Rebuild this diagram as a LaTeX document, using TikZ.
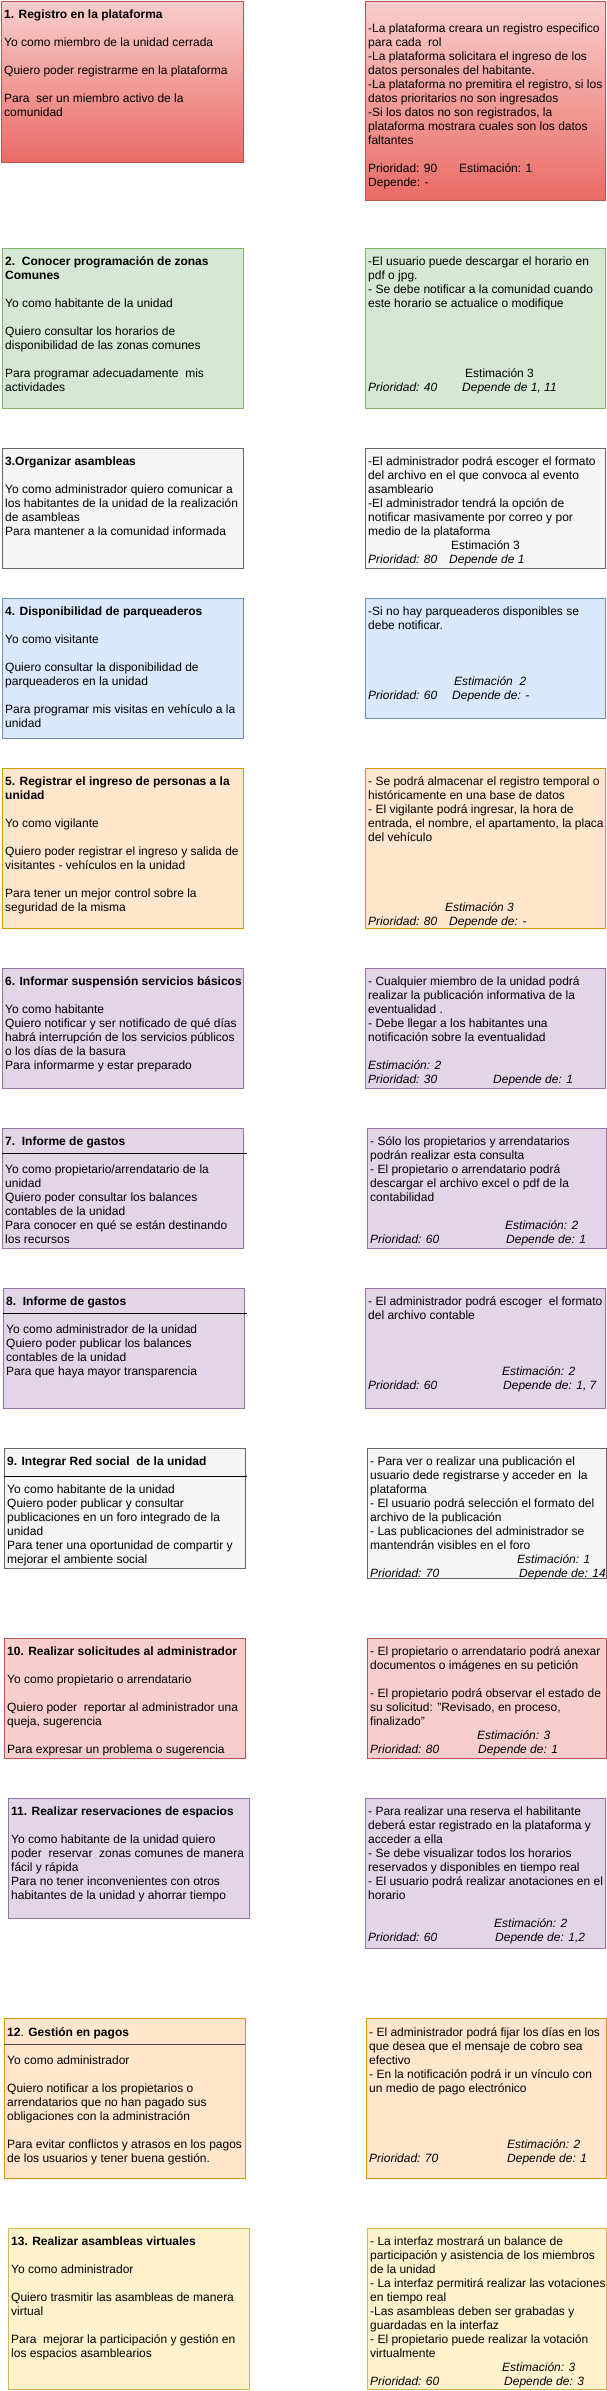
\documentclass[tikz,border=0pt]{standalone}
\usepackage{fontspec}
\setmainfont{Liberation Sans}
\usepackage{tikz}

\definecolor{pinkfill}{HTML}{F8CECC}
\definecolor{pinkdark}{HTML}{EA6B66}
\definecolor{pinkline}{HTML}{B85450}
\definecolor{greenfill}{HTML}{D5E8D4}
\definecolor{greenline}{HTML}{82B366}
\definecolor{greyfill}{HTML}{F5F5F5}
\definecolor{greyline}{HTML}{666666}
\definecolor{bluefill}{HTML}{DAE8FC}
\definecolor{blueline}{HTML}{6C8EBF}
\definecolor{orangefill}{HTML}{FFE6CC}
\definecolor{orangeline}{HTML}{D79B00}
\definecolor{purplefill}{HTML}{E1D5E7}
\definecolor{purpleline}{HTML}{9673A6}
\definecolor{yellowfill}{HTML}{FFF2CC}
\definecolor{yellowline}{HTML}{D6B656}

\begin{document}
\begin{tikzpicture}[x=1pt,y=-1pt,
        card/.style={shape=rectangle,anchor=north west,inner sep=0pt,line width=1pt,minimum width=241pt},
        gradbox/.style={card,draw=pinkline,top color=pinkfill,bottom color=pinkdark},
        pinkbox/.style={card,draw=pinkline,fill=pinkfill},
        greenbox/.style={card,draw=greenline,fill=greenfill},
        greybox/.style={card,draw=greyline,fill=greyfill},
        bluebox/.style={card,draw=blueline,fill=bluefill},
        orangebox/.style={card,draw=orangeline,fill=orangefill},
        purplebox/.style={card,draw=purpleline,fill=purplefill},
        yellowbox/.style={card,draw=yellowline,fill=yellowfill},
        txt/.style={anchor=north west,align=left,inner sep=0pt,font=\fontsize{12}{14}\selectfont}]
        \useasboundingbox (0,0) rectangle (607,2391);

        \node[gradbox,minimum width=242pt,minimum height=161pt] (us1) at (1,1) {};
        \node[gradbox,minimum width=240pt,minimum height=199pt] (cr1) at (365,1) {};
        \node[greenbox,minimum height=160pt] (us2) at (2,248) {};
        \node[greenbox,minimum width=240pt,minimum height=160pt] (cr2) at (365,248) {};
        \node[greybox,minimum height=120pt] (us3) at (2,448) {};
        \node[greybox,minimum width=240pt,minimum height=120pt] (cr3) at (365,448) {};
        \node[bluebox,minimum height=140pt] (us4) at (2,598) {};
        \node[bluebox,minimum width=240pt,minimum height=120pt] (cr4) at (365,598) {};
        \node[orangebox,minimum height=160pt] (us5) at (2,768) {};
        \node[orangebox,minimum width=240pt,minimum height=160pt] (cr5) at (365,768) {};
        \node[purplebox,minimum height=120pt] (us6) at (2,968) {};
        \node[purplebox,minimum width=240pt,minimum height=120pt] (cr6) at (365,968) {};
        \node[purplebox,minimum height=120pt] (us7) at (2,1128) {};
        \node[purplebox,minimum width=239pt,minimum height=120pt] (cr7) at (367,1128) {};
        \node[purplebox,minimum height=120pt] (us8) at (3,1288) {};
        \node[purplebox,minimum width=240pt,minimum height=120pt] (cr8) at (365,1288) {};
        \node[greybox,minimum height=120pt] (us9) at (4,1448) {};
        \node[greybox,minimum width=239pt,minimum height=130pt] (cr9) at (367,1448) {};
        \node[pinkbox,minimum height=120pt] (us10) at (4,1638) {};
        \node[pinkbox,minimum width=239pt,minimum height=120pt] (cr10) at (367,1638) {};
        \node[purplebox,minimum height=120pt] (us11) at (8,1798) {};
        \node[purplebox,minimum width=240pt,minimum height=150pt] (cr11) at (365,1798) {};
        \node[orangebox,minimum height=160pt] (us12) at (4,2018) {};
        \node[orangebox,minimum width=240pt,minimum height=160pt] (cr12) at (366,2018) {};
        \node[yellowbox,minimum height=161pt] (us13) at (8,2228) {};
        \node[yellowbox,minimum width=239pt,minimum height=161pt] (cr13) at (367,2228) {};

        \draw[line width=1pt] ([yshift=-25pt]us7.north west) -- ++(245,0);
        \draw[line width=1pt] ([yshift=-25pt]us8.north west) -- ++(244,0);
        \draw[line width=1pt] ([yshift=-28pt]us9.north west) -- ++(243,0);
        \draw[line width=1pt,draw=black!70] ([yshift=-26pt]us12.north west) -- ++(241,0);

        \node[txt] (us1t) at ([shift={(3,7)}]us1.north west) {\strut\textbf{1. Registro en la plataforma}\\[14pt]
                Yo como miembro de la unidad cerrada\\[14pt]
                Quiero poder registrarme en la plataforma\\[14pt]
                Para\ \ ser un miembro activo de la\\
                comunidad};
        \node[txt] (cr1t) at ([shift={(3,21)}]cr1.north west) {\strut-La plataforma creara un registro especifico\\
                para cada\ \ rol\\
                -La plataforma solicitara el ingreso de los\\
                datos personales del habitante.\\
                -La plataforma no premitira el registro, si los\\
                datos prioritarios no son ingresados\\
                -Si los datos no son registrados, la\\
                plataforma mostrara cuales son los datos\\
                faltantes\\[14pt]
                \makebox[91pt][l]{Prioridad: 90}Estimación: 1\\
                Depende: -};

        \node[txt] (us2t) at ([shift={(3,7)}]us2.north west) {\strut\textbf{2.\ \ Conocer programación de zonas}\\
                \textbf{Comunes}\\[14pt]
                Yo como habitante de la unidad\\[14pt]
                Quiero consultar los horarios de\\
                disponibilidad de las zonas comunes\\[14pt]
                Para programar adecuadamente\ \ mis\\
                actividades};
        \node[txt] (cr2t) at ([shift={(3,7)}]cr2.north west) {\strut-El usuario puede descargar el horario en\\
                pdf o jpg.\\
                - Se debe notificar a la comunidad cuando\\
                este horario se actualice o modifique\\[56pt]
                \hspace*{97pt}Estimación 3\\
                \textit{\makebox[94pt][l]{Prioridad: 40}Depende de 1, 11}};

        \node[txt] (us3t) at ([shift={(3,7)}]us3.north west) {\strut\textbf{3.Organizar asambleas}\\[14pt]
                Yo como administrador quiero comunicar a\\
                los habitantes de la unidad de la realización\\
                de asambleas\\
                Para mantener a la comunidad informada};
        \node[txt] (cr3t) at ([shift={(3,7)}]cr3.north west) {\strut-El administrador podrá escoger el formato\\
                del archivo en el que convoca al evento\\
                asambleario\\
                -El administrador tendrá la opción de\\
                notificar masivamente por correo y por\\
                medio de la plataforma\\
                \hspace*{83pt}Estimación 3\\
                \textit{\makebox[81pt][l]{Prioridad: 80}Depende de 1}};

        \node[txt] (us4t) at ([shift={(3,7)}]us4.north west) {\strut\textbf{4. Disponibilidad de parqueaderos}\\[14pt]
                Yo como visitante\\[14pt]
                Quiero consultar la disponibilidad de\\
                parqueaderos en la unidad\\[14pt]
                Para programar mis visitas en vehículo a la\\
                unidad};
        \node[txt] (cr4t) at ([shift={(3,7)}]cr4.north west) {\strut-Si no hay parqueaderos disponibles se\\
                debe notificar.\\[42pt]
                \textit{\hspace*{86pt}Estimación\ \ 2}\\
                \textit{\makebox[84pt][l]{Prioridad: 60}Depende de: -}};

        \node[txt] (us5t) at ([shift={(3,7)}]us5.north west) {\strut\textbf{5. Registrar el ingreso de personas a la}\\
                \textbf{unidad}\\[14pt]
                Yo como vigilante\\[14pt]
                Quiero poder registrar el ingreso y salida de\\
                visitantes - vehículos en la unidad\\[14pt]
                Para tener un mejor control sobre la\\
                seguridad de la misma};
        \node[txt] (cr5t) at ([shift={(3,7)}]cr5.north west) {\strut- Se podrá almacenar el registro temporal o\\
                históricamente en una base de datos\\
                - El vigilante podrá ingresar, la hora de\\
                entrada, el nombre, el apartamento, la placa\\
                del vehículo\\[56pt]
                \textit{\hspace*{77pt}Estimación 3}\\
                \textit{\makebox[81pt][l]{Prioridad: 80}Depende de: -}};

        \node[txt] (us6t) at ([shift={(3,7)}]us6.north west) {\strut\textbf{6. Informar suspensión servicios básicos}\\[14pt]
                Yo como habitante\\
                Quiero notificar y ser notificado de qué días\\
                habrá interrupción de los servicios públicos\\
                o los días de la basura\\
                Para informarme y estar preparado};
        \node[txt] (cr6t) at ([shift={(3,7)}]cr6.north west) {\strut- Cualquier miembro de la unidad podrá\\
                realizar la publicación informativa de la\\
                eventualidad .\\
                - Debe llegar a los habitantes una\\
                notificación sobre la eventualidad\\[14pt]
                \textit{Estimación: 2}\\
                \textit{\makebox[125pt][l]{Prioridad: 30}Depende de: 1}};

        \node[txt] (us7t) at ([shift={(3,7)}]us7.north west) {\strut\textbf{7.\ \ Informe de gastos}\\[14pt]
                Yo como propietario/arrendatario de la\\
                unidad\\
                Quiero poder consultar los balances\\
                contables de la unidad\\
                Para conocer en qué se están destinando\\
                los recursos};
        \node[txt] (cr7t) at ([shift={(3,7)}]cr7.north west) {\strut- Sólo los propietarios y arrendatarios\\
                podrán realizar esta consulta\\
                - El propietario o arrendatario podrá\\
                descargar el archivo excel o pdf de la\\
                contabilidad\\[14pt]
                \textit{\hspace*{135pt}Estimación: 2}\\
                \textit{\makebox[136pt][l]{Prioridad: 60}Depende de: 1}};

        \node[txt] (us8t) at ([shift={(3,7)}]us8.north west) {\strut\textbf{8.\ \ Informe de gastos}\\[14pt]
                Yo como administrador de la unidad\\
                Quiero poder publicar los balances\\
                contables de la unidad\\
                Para que haya mayor transparencia};
        \node[txt] (cr8t) at ([shift={(3,7)}]cr8.north west) {\strut- El administrador podrá escoger\ \ el formato\\
                del archivo contable\\[42pt]
                \textit{\hspace*{134pt}Estimación: 2}\\
                \textit{\makebox[135pt][l]{Prioridad: 60}Depende de: 1, 7}};

        \node[txt] (us9t) at ([shift={(3,7)}]us9.north west) {\strut\textbf{9. Integrar Red social\ \ de la unidad}\\[14pt]
                Yo como habitante de la unidad\\
                Quiero poder publicar y consultar\\
                publicaciones en un foro integrado de la\\
                unidad\\
                Para tener una oportunidad de compartir y\\
                mejorar el ambiente social};
        \node[txt] (cr9t) at ([shift={(3,7)}]cr9.north west) {\strut- Para ver o realizar una publicación el\\
                usuario dede registrarse y acceder en\ \ la\\
                plataforma\\
                - El usuario podrá selección el formato del\\
                archivo de la publicación\\
                - Las publicaciones del administrador se\\
                mantendrán visibles en el foro\\
                \textit{\hspace*{147pt}Estimación: 1}\\
                \textit{\makebox[149pt][l]{Prioridad: 70}Depende de: 14}};

        \node[txt] (us10t) at ([shift={(3,7)}]us10.north west) {\strut\textbf{10. Realizar solicitudes al administrador}\\[14pt]
                Yo como propietario o arrendatario\\[14pt]
                Quiero poder\ \ reportar al administrador una\\
                queja, sugerencia\\[14pt]
                Para expresar un problema o sugerencia};
        \node[txt] (cr10t) at ([shift={(3,7)}]cr10.north west) {\strut- El propietario o arrendatario podrá anexar\\
                documentos o imágenes en su petición\\[14pt]
                - El propietario podrá observar el estado de\\
                su solicitud: "Revisado, en proceso,\\
                finalizado"\\
                \textit{\hspace*{107pt}Estimación: 3}\\
                \textit{\makebox[108pt][l]{Prioridad: 80}Depende de: 1}};

        \node[txt] (us11t) at ([shift={(3,7)}]us11.north west) {\strut\textbf{11. Realizar reservaciones de espacios}\\[14pt]
                Yo como habitante de la unidad quiero\\
                poder\ \ reservar\ \ zonas comunes de manera\\
                fácil y rápida\\
                Para no tener inconvenientes con otros\\
                habitantes de la unidad y ahorrar tiempo};
        \node[txt] (cr11t) at ([shift={(3,7)}]cr11.north west) {\strut- Para realizar una reserva el habilitante\\
                deberá estar registrado en la plataforma y\\
                acceder a ella\\
                - Se debe visualizar todos los horarios\\
                reservados y disponibles en tiempo real\\
                - El usuario podrá realizar anotaciones en el\\
                horario\\[14pt]
                \textit{\hspace*{126pt}Estimación: 2}\\
                \textit{\makebox[127pt][l]{Prioridad: 60}Depende de: 1,2}};

        \node[txt] (us12t) at ([shift={(3,8)}]us12.north west) {\strut\textbf{12}.\textbf{ Gestión en pagos}\\[14pt]
                Yo como administrador\\[14pt]
                Quiero notificar a los propietarios o\\
                arrendatarios que no han pagado sus\\
                obligaciones con la administración\\[14pt]
                Para evitar conflictos y atrasos en los pagos\\
                de los usuarios y tener buena gestión.};
        \node[txt] (cr12t) at ([shift={(3,8)}]cr12.north west) {\strut- El administrador podrá fijar los días en los\\
                que desea que el mensaje de cobro sea\\
                efectivo\\
                - En la notificación podrá ir un vínculo con\\
                un medio de pago electrónico\\[42pt]
                \textit{\hspace*{138pt}Estimación: 2}\\
                \textit{\makebox[138pt][l]{Prioridad: 70}Depende de: 1}};

        \node[txt] (us13t) at ([shift={(3,7)}]us13.north west) {\strut\textbf{13. Realizar asambleas virtuales}\\[14pt]
                Yo como administrador\\[14pt]
                Quiero trasmitir las asambleas de manera\\
                virtual\\[14pt]
                Para\ \ mejorar la participación y gestión en\\
                los espacios asamblearios};
        \node[txt] (cr13t) at ([shift={(3,7)}]cr13.north west) {\strut- La interfaz mostrará un balance de\\
                participación y asistencia de los miembros\\
                de la unidad\\
                - La interfaz permitirá realizar las votaciones\\
                en tiempo real\\
                -Las asambleas deben ser grabadas y\\
                guardadas en la interfaz\\
                - El propietario puede realizar la votación\\
                virtualmente\\
                \textit{\hspace*{132pt}Estimación: 3}\\
                \textit{\makebox[134pt][l]{Prioridad: 60}Depende de: 3}};
\end{tikzpicture}
\end{document}
